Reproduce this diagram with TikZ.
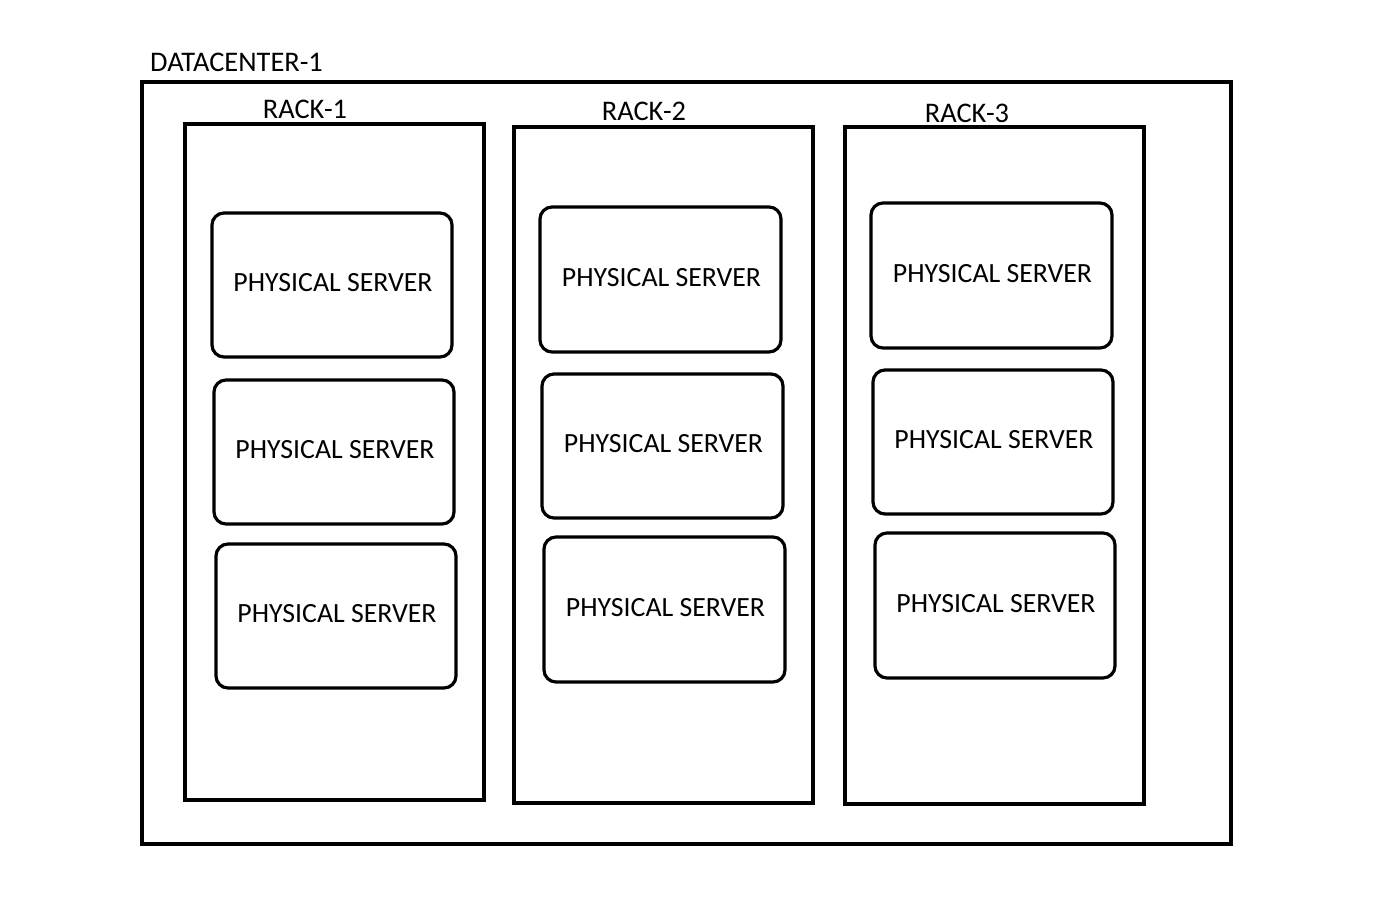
\documentclass[tikz,border=0pt]{standalone}
\usepackage{fontspec}
\setmainfont{Carlito}
\begin{document}
\begin{tikzpicture}[x=1pt,y=-1pt,
  box/.style={draw=black,line width=3.2pt,fill=none},
  server/.style={draw=black,line width=3.2pt,rounded corners=12pt},
  lbl/.style={font=\fontsize{28.4}{32}\selectfont,inner sep=0pt,anchor=base},
  stxt/.style={font=\fontsize{27.8}{31}\selectfont,inner sep=0pt}]
\useasboundingbox (0,0) rectangle (1378,909);
\fill[white] (0,0) rectangle (1378,909);
% datacenter
\draw[box] (142,82) rectangle (1231,844);
\node[lbl,anchor=base west] (dclbl) at (150,72) {DATACENTER-1};
% racks
\draw[box] (185,124) rectangle (484,800);
\node[lbl] (r1lbl) at (305,119) {RACK-1};
\draw[box] (514,127) rectangle (813,803);
\node[lbl] (r2lbl) at (644,121) {RACK-2};
\draw[box] (845,127) rectangle (1144,804);
\node[lbl] (r3lbl) at (967,123) {RACK-3};
% servers
\foreach \n/\xa/\ya/\xb/\yb in {
  s11/212/213/452/357, s12/214/380/454/524, s13/216/544/456/688,
  s21/540/207/781/352, s22/542/374/783/518, s23/544/537/785/682,
  s31/871/203/1112/348, s32/873/370/1113/514, s33/875/533/1115/678}{
  \draw[server] (\xa,\ya) rectangle (\xb,\yb);
  \node[stxt] (\n) at ({(\xa+\xb)/2+1},{(\ya+\yb)/2-2}) {PHYSICAL SERVER};
}
\end{tikzpicture}
\end{document}
